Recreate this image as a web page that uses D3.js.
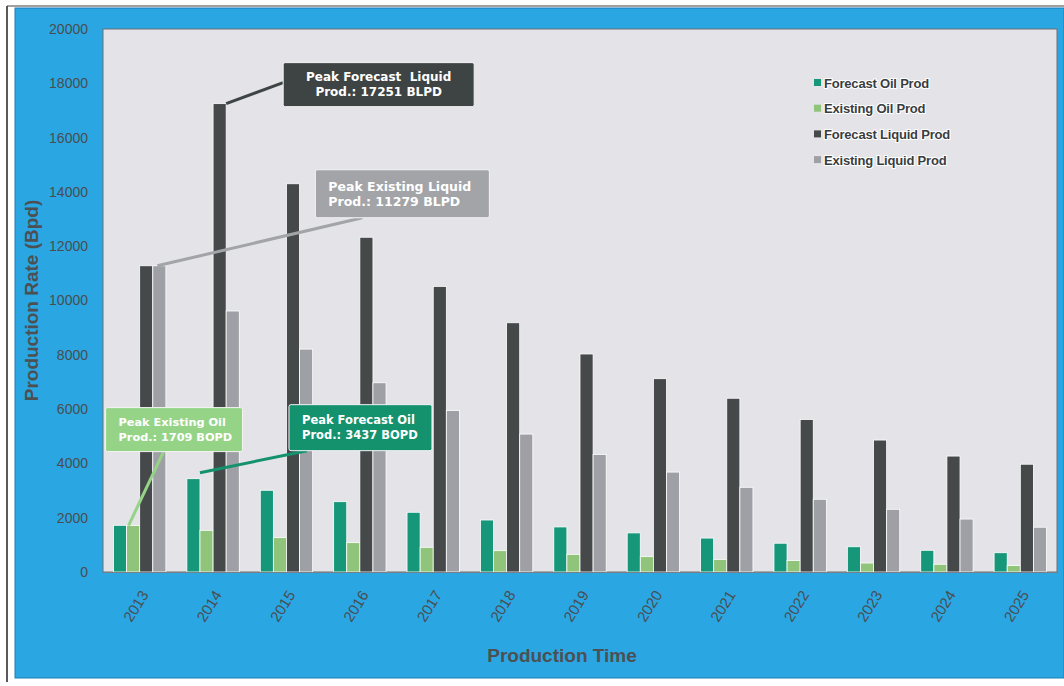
<!DOCTYPE html>
<html>
<head>
<meta charset="utf-8">
<script src="https://cdn.jsdelivr.net/npm/d3@7"></script>
<style>
  body { margin: 0; background: #fff; }
  svg { display: block; }
  .tick text { font-family: "Liberation Sans", Arial, sans-serif; fill: #4a4d50; }
</style>
</head>
<body>
<svg id="chart"></svg>
<script>
var W = 1064, H = 686;

// data (barrels per day)
var years = ["2013","2014","2015","2016","2017","2018","2019","2020","2021","2022","2023","2024","2025"];
var seriesNames = ["Forecast Oil Prod", "Existing Oil Prod", "Forecast Liquid Prod", "Existing Liquid Prod"];
var seriesColors = ["#17977a", "#8fc47a", "#45494a", "#9ea0a5"];
var forecastOil    = [1720, 3437, 3010, 2590, 2200, 1915, 1660, 1440, 1250, 1060, 930, 800, 710];
var existingOil    = [1709, 1535, 1265, 1080, 910, 785, 650, 565, 465, 420, 330, 285, 235];
var forecastLiquid = [11279, 17251, 14300, 12330, 10520, 9180, 8030, 7120, 6400, 5620, 4860, 4270, 3970];
var existingLiquid = [11279, 9613, 8210, 6970, 5950, 5080, 4330, 3680, 3120, 2680, 2310, 1950, 1650];
var yTicks = [0, 2000, 4000, 6000, 8000, 10000, 12000, 14000, 16000, 18000, 20000];

var allSeries = [forecastOil, existingOil, forecastLiquid, existingLiquid];

// callouts: which bar they point to, and the text
var callouts = [
  {series: 2, year: "2014", lines: ["Peak Forecast  Liquid", "Prod.: 17251 BLPD"], fill: "#3e4343", align: "middle", size: 12},
  {series: 3, year: "2013", lines: ["Peak Existing Liquid", "Prod.: 11279 BLPD"], fill: "#a2a4a7", align: "start", size: 12.5},
  {series: 1, year: "2013", lines: ["Peak Existing Oil", "Prod.: 1709 BOPD"], fill: "#95d487", align: "start", size: 11.3},
  {series: 0, year: "2014", lines: ["Peak Forecast Oil", "Prod.: 3437 BOPD"], fill: "#14916d", align: "start", size: 11.5}
];
// box placement relative to the bar top (pixels)
var calloutBoxes = [
  {ax: 1.0, ady: 0, dx: 57, dy: -41, w: 191, h: 44, lx: 0, ly: 20},
  {ax: 0.35, ady: 0, dx: 158, dy: -96, w: 174, h: 48, lx: 47, ly: 48},
  {ax: 0.15, ady: 0, dx: -23, dy: -118, w: 137, h: 44, lx: 58, ly: 44},
  {ax: 1.0, ady: -6, dx: 89, dy: -68, w: 143, h: 46, lx: 18, ly: 46}
];

var m = {left: 103, right: 1057, top: 29, bottom: 572};

var svg = d3.select("#chart").attr("width", W).attr("height", H);

// page frame and blue panel
svg.append("rect").attr("x", 0).attr("y", 0).attr("width", W).attr("height", H).attr("fill", "#fff");
svg.append("line").attr("x1", 7).attr("y1", 6).attr("x2", 7).attr("y2", 682).attr("stroke", "#222").attr("stroke-width", 1.5);
svg.append("line").attr("x1", 7).attr("y1", 6).attr("x2", W).attr("y2", 6).attr("stroke", "#444").attr("stroke-width", 1.2);
svg.append("rect").attr("x", 15).attr("y", 8).attr("width", W - 15).attr("height", 670)
  .attr("fill", "#2aa6e3").attr("stroke", "#1c7fb5").attr("stroke-width", 1);

// plot area
svg.append("rect").attr("x", m.left).attr("y", m.top)
  .attr("width", m.right - m.left).attr("height", m.bottom - m.top)
  .attr("fill", "#e3e3e8").attr("stroke", "#6b6f74").attr("stroke-width", 1);

var x0 = d3.scaleBand().domain(years).range([m.left, m.right]).padding(0);
var x1 = d3.scaleBand().domain(d3.range(4)).range([10.5, x0.bandwidth() - 10.5]).padding(0);
var y = d3.scaleLinear().domain([0, 20000]).range([m.bottom, m.top]);

// bars
var groups = svg.append("g").selectAll("g").data(years).join("g")
  .attr("transform", function(d) { return "translate(" + x0(d) + ",0)"; });

groups.selectAll("rect")
  .data(function(d, i) { return allSeries.map(function(s, k) { return {k: k, v: s[i]}; }); })
  .join("rect")
  .attr("x", function(d) { return x1(d.k); })
  .attr("width", x1.bandwidth())
  .attr("y", function(d) { return y(d.v); })
  .attr("height", function(d) { return y(0) - y(d.v); })
  .attr("fill", function(d) { return seriesColors[d.k]; })
  .attr("stroke", "#fff").attr("stroke-width", 0.8);

// axes
var yAxis = d3.axisLeft(y).tickValues(yTicks).tickSize(0).tickPadding(15).tickFormat(d3.format("d"));
svg.append("g").attr("transform", "translate(" + m.left + ",0)").call(yAxis)
  .call(function(g) { g.select(".domain").remove(); })
  .selectAll("text").attr("font-size", 14);

var xAxis = d3.axisBottom(x0).tickSize(0).tickPadding(0);
svg.append("g").attr("transform", "translate(0," + m.bottom + ")").call(xAxis)
  .call(function(g) { g.select(".domain").attr("stroke", "#7a7f85"); })
  .selectAll("text")
  .attr("font-size", 15)
  .attr("text-anchor", "end")
  .attr("dy", "0.35em")
  .attr("transform", "translate(5,20) rotate(-58)");

// axis titles
svg.append("text")
  .attr("transform", "translate(38," + ((m.top + m.bottom) / 2) + ") rotate(-90)")
  .attr("text-anchor", "middle")
  .attr("font-family", "Liberation Sans, Arial, sans-serif")
  .attr("font-weight", "bold").attr("font-size", 19).attr("fill", "#4d5052")
  .text("Production Rate (Bpd)");

svg.append("text")
  .attr("x", 562).attr("y", 662)
  .attr("text-anchor", "middle")
  .attr("font-family", "Liberation Sans, Arial, sans-serif")
  .attr("font-weight", "bold").attr("font-size", 19).attr("fill", "#4d5052")
  .text("Production Time");

// legend
var legend = svg.append("g").attr("transform", "translate(814,83)");
var li = legend.selectAll("g").data(seriesNames).join("g")
  .attr("transform", function(d, i) { return "translate(0," + (i * 25.7) + ")"; });
li.append("rect").attr("x", 0).attr("y", -4).attr("width", 7).attr("height", 7)
  .attr("fill", function(d, i) { return seriesColors[i]; });
li.append("text").attr("x", 10).attr("y", 0).attr("dy", "0.35em")
  .attr("font-family", "Liberation Sans, Arial, sans-serif")
  .attr("font-weight", "bold").attr("font-size", 13).attr("fill", "#3a3d40")
  .attr("letter-spacing", -0.2)
  .attr("stroke", "#fff").attr("stroke-width", 2.2).attr("paint-order", "stroke")
  .text(function(d) { return d; });

// callouts
callouts.forEach(function(c, i) {
  var b = calloutBoxes[i];
  var vals = allSeries[c.series];
  var v = vals[years.indexOf(c.year)];
  var ax = x0(c.year) + x1(c.series) + b.ax * x1.bandwidth();
  var ay = y(v) + b.ady;
  var bx = ax + b.dx, by = ay + b.dy;
  svg.append("line")
    .attr("x1", ax).attr("y1", ay).attr("x2", bx + b.lx).attr("y2", by + b.ly)
    .attr("stroke", c.fill).attr("stroke-width", 3);
  svg.append("rect").attr("x", bx).attr("y", by).attr("width", b.w).attr("height", b.h)
    .attr("rx", 2).attr("fill", c.fill)
    .attr("stroke", "#f4f4f4").attr("stroke-width", 1);
  var tx = c.align === "middle" ? bx + b.w / 2 : bx + 13;
  c.lines.forEach(function(t, j) {
    svg.append("text")
      .attr("x", tx).attr("y", by + b.h / 2 + (j === 0 ? -7.5 : 7.5))
      .attr("dy", "0.35em")
      .attr("text-anchor", c.align)
      .attr("font-family", "DejaVu Sans, Verdana, sans-serif")
      .attr("font-weight", "bold").attr("font-size", c.size).attr("fill", "#fff")
      .attr("xml:space", "preserve")
      .text(t);
  });
});
</script>
</body>
</html>
